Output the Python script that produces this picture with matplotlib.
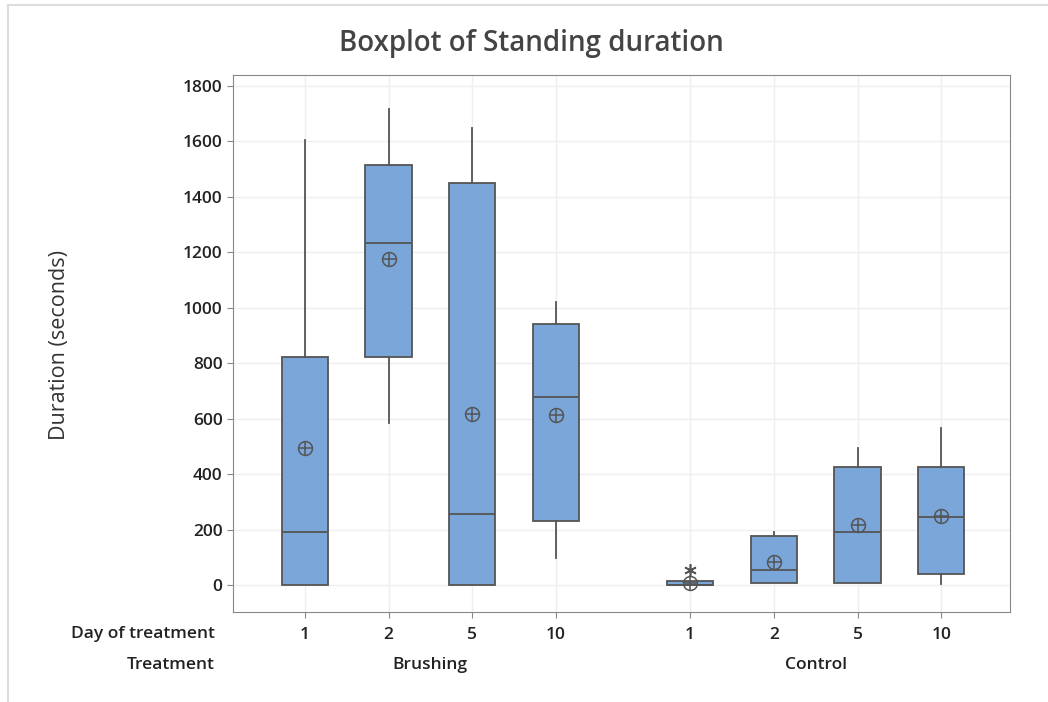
import matplotlib.pyplot as plt
from matplotlib.lines import Line2D
from matplotlib.transforms import blended_transform_factory

plt.rcParams['font.family'] = ['Open Sans', 'DejaVu Sans']

# data
days = ['1', '2', '5', '10', '1', '2', '5', '10']
treatments = ['Brushing', 'Control']
positions = [1, 2, 3, 4, 5.6, 6.6, 7.6, 8.6]

whislo = [0, 586, 0, 97, 0, 7, 7, 5]
q1 = [0, 824, 0, 233, 0, 7, 7, 41]
med = [193, 1233, 257, 680, 2, 54, 191, 245]
q3 = [824, 1515, 1450, 943, 15, 179, 427, 427]
whishi = [1605, 1716, 1649, 1022, 15, 193, 496, 568]
means = [496, 1176, 617, 614, 10, 85, 217, 250]
fliers = [[], [], [], [], [55], [], [], []]

box_color = '#7BA6DA'
edge = '#555555'
text_col = '#222222'

fig = plt.figure(figsize=(10.48, 7.02), dpi=100)
ax = fig.add_axes([0.2223, 0.1282, 0.7414, 0.765])

stats = []
for i in range(len(days)):
    stats.append(dict(whislo=whislo[i], q1=q1[i], med=med[i], q3=q3[i],
                      whishi=whishi[i], mean=means[i], fliers=fliers[i]))

ax.bxp(stats, positions=positions, widths=0.55, patch_artist=True,
       showcaps=False, showmeans=False,
       boxprops=dict(facecolor=box_color, edgecolor=edge, linewidth=1.3),
       medianprops=dict(color=edge, linewidth=1.3),
       whiskerprops=dict(color=edge, linewidth=1.3),
       flierprops=dict(marker=(6, 2, 0), markersize=9, markeredgecolor=edge,
                       markerfacecolor='none', markeredgewidth=1.2),
       zorder=3)

# mean symbols: circle with cross
ax.plot(positions, means, 'o', ms=10, mfc='none', mec=edge, mew=1.1, zorder=4)
ax.plot(positions, means, '+', ms=10, mec=edge, mew=1.1, zorder=4)

ax.set_xlim(0.143, 9.42)
ax.set_ylim(-96, 1839)
ax.set_yticks(range(0, 1801, 200))
ax.set_xticks(positions)
ax.set_xticklabels(days)
ax.grid(True, color='#EFEFEF', linewidth=1, zorder=0)
ax.set_axisbelow(True)
for s in ax.spines.values():
    s.set_color('#888888')
ax.tick_params(axis='both', colors='#888888', labelcolor=text_col,
               labelsize=12.5, length=4)
ax.tick_params(axis='x', pad=7)
for lab in ax.get_xticklabels() + ax.get_yticklabels():
    lab.set_fontweight('semibold')

fig.text(531 / 1048, 1 - 43 / 702, 'Boxplot of Standing duration', ha='center',
         va='center', fontsize=20, fontweight='semibold', color='#444444')
fig.text(60 / 1048, 1 - 345 / 702, 'Duration (seconds)', rotation=90, ha='center',
         va='center', fontsize=15.5, color='#333333')

fig.text(215 / 1048, 1 - 634 / 702, 'Day of treatment', ha='right', va='center',
         fontsize=12.5, color=text_col, fontweight='semibold')
fig.text(215 / 1048, 1 - 665 / 702, 'Treatment', ha='right', va='center',
         fontsize=12.5, color=text_col, fontweight='semibold')
trans = blended_transform_factory(ax.transData, fig.transFigure)
groups = [positions[:4], positions[4:]]
for name, g in zip(treatments, groups):
    ax.text(sum(g) / len(g), 1 - 665 / 702, name, transform=trans,
            ha='center', va='center', fontsize=12.5, color=text_col,
            fontweight='semibold')

# light frame around the picture
fig.add_artist(Line2D([8 / 1048, 1], [1 - 5 / 702, 1 - 5 / 702], color='#DDDDDD', lw=1.5))
fig.add_artist(Line2D([8 / 1048, 8 / 1048], [0, 1 - 5 / 702], color='#DDDDDD', lw=1.5))

fig.savefig('out.png', dpi=100)
